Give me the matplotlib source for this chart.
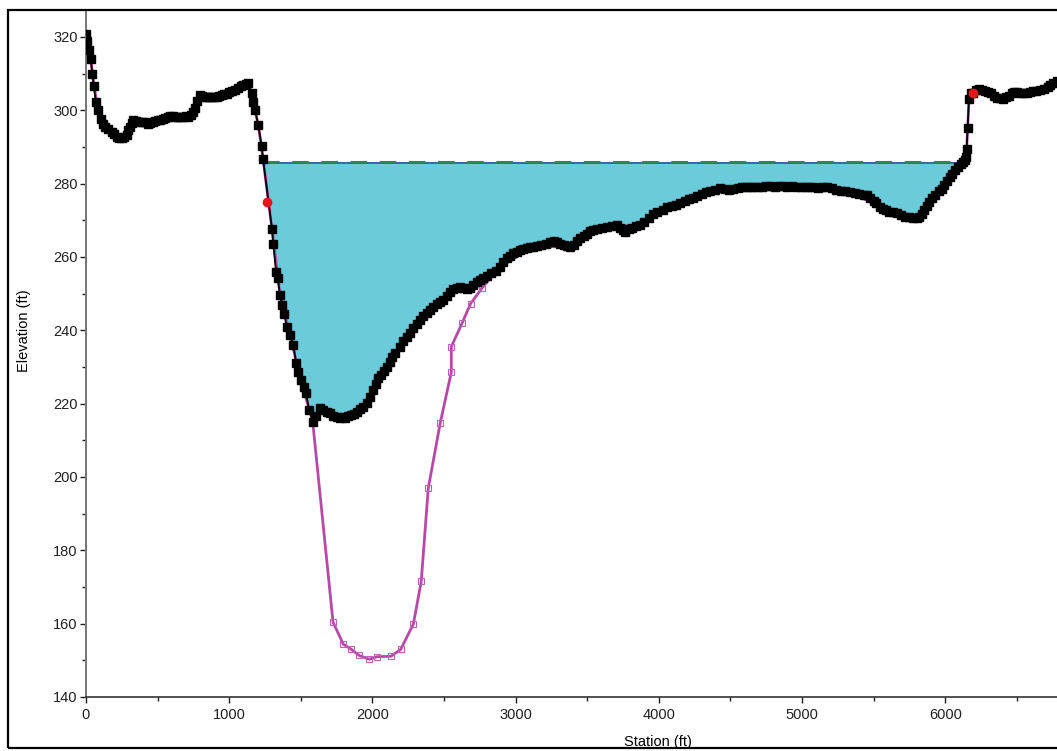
import numpy as np
import matplotlib
matplotlib.use("Agg")
import matplotlib.pyplot as plt
from matplotlib.patches import Rectangle

plt.rcParams['font.family'] = ['Liberation Sans', 'DejaVu Sans']

# ---------------- data ----------------
ground_station = [
    0, 9, 20, 33, 45, 56, 68, 86, 103, 118, 133, 155, 179, 196, 214, 232, 249, 266, 284, 296,
    307, 318, 330, 350, 370, 389, 410, 430, 447, 465, 482, 500, 517, 535, 552, 570, 587, 605,
    622, 640, 656, 675, 695, 714, 730, 746, 761, 778, 796, 812, 828, 843, 860, 878, 896, 913,
    930, 947, 965, 982, 1000, 1020, 1040, 1060, 1080, 1099, 1116, 1133, 1157, 1168, 1180, 1203,
    1227, 1236, 1299, 1308, 1327, 1339, 1355, 1366, 1385, 1401, 1425, 1448, 1467, 1483, 1499,
    1522, 1536, 1559, 1583, 1606, 1634, 1657, 1680, 1704, 1727, 1750, 1774, 1797, 1809, 1830,
    1850, 1870, 1890, 1913, 1935, 1960, 1983, 2006, 2025, 2041, 2060, 2080, 2100, 2120, 2140,
    2160, 2193, 2215, 2240, 2263, 2285, 2310, 2332, 2355, 2380, 2402, 2425, 2450, 2472, 2495,
    2520, 2545, 2565, 2589, 2610, 2635, 2660, 2681, 2705, 2730, 2752, 2774, 2800, 2830, 2860,
    2890, 2915, 2938, 2960, 2985, 3010, 3031, 3055, 3080, 3100, 3124, 3150, 3180, 3210, 3240,
    3265, 3287, 3310, 3335, 3360, 3380, 3405, 3430, 3450, 3475, 3500, 3520, 3543, 3570, 3600,
    3636, 3670, 3706, 3730, 3750, 3764, 3790, 3815, 3840, 3869, 3900, 3930, 3960, 3990, 4030,
    4060, 4090, 4120, 4148, 4180, 4210, 4240, 4270, 4300, 4330, 4360, 4390, 4427, 4460, 4490,
    4520, 4550, 4580, 4610, 4640, 4658, 4690, 4720, 4750, 4780, 4810, 4840, 4870, 4895, 4930,
    4960, 4990, 5020, 5050, 5080, 5110, 5140, 5175, 5210, 5240, 5270, 5300, 5336, 5370, 5400,
    5430, 5454, 5475, 5500, 5520, 5545, 5568, 5590, 5610, 5635, 5661, 5690, 5720, 5750, 5775,
    5801, 5820, 5840, 5855, 5871, 5890, 5910, 5930, 5955, 5976, 5995, 6015, 6033, 6050, 6070,
    6091, 6110, 6125, 6138, 6143, 6150, 6157, 6166, 6180, 6196, 6215, 6236, 6260, 6280, 6299,
    6320, 6340, 6360, 6383, 6404, 6425, 6445, 6465, 6481, 6499, 6520, 6545, 6570, 6590, 6610,
    6635, 6662, 6690, 6715, 6735, 6755, 6780,
]
ground_elev = [
    320.8, 319.0, 316.5, 313.9, 310.0, 306.6, 302.4, 300.1, 297.6, 296.4, 295.5, 294.8, 294.2,
    293.5, 292.8, 292.4, 292.4, 292.6, 293.3, 294.5, 295.5, 296.6, 297.4, 297.0, 296.8, 296.9,
    296.7, 296.4, 296.5, 296.7, 297.0, 297.3, 297.4, 297.7, 298.0, 298.3, 298.5, 298.4, 298.3,
    298.3, 298.3, 298.3, 298.4, 298.3, 298.8, 299.6, 300.6, 302.5, 304.2, 303.9, 303.7, 303.6,
    303.6, 303.7, 303.7, 303.7, 304.0, 304.2, 304.4, 304.5, 304.9, 305.2, 305.5, 306.0, 306.5,
    306.9, 307.2, 307.4, 304.6, 302.4, 300.1, 296.0, 290.3, 286.8, 267.6, 263.5, 256.0, 254.2,
    249.6, 247.0, 244.4, 241.0, 238.7, 236.0, 231.2, 228.7, 226.5, 224.6, 222.8, 218.3, 215.1,
    216.5, 218.7, 218.3, 217.6, 217.4, 216.5, 216.3, 216.0, 216.3, 216.0, 216.6, 217.0, 217.3,
    217.8, 218.5, 219.2, 220.1, 221.8, 223.7, 225.3, 226.9, 227.8, 229.0, 230.1, 231.3, 232.6,
    233.8, 235.5, 237.0, 238.1, 239.2, 240.5, 241.8, 242.8, 243.8, 244.7, 245.5, 246.4, 247.3,
    247.8, 248.3, 249.4, 250.5, 251.2, 251.5, 251.7, 251.6, 251.4, 251.5, 252.4, 253.2, 253.7,
    254.2, 254.9, 255.6, 256.3, 257.2, 258.5, 259.7, 260.3, 261.0, 261.4, 261.9, 262.1, 262.4,
    262.6, 262.8, 263.0, 263.3, 263.6, 264.0, 264.3, 264.2, 263.5, 263.2, 262.9, 262.8, 263.4,
    264.3, 265.1, 265.8, 266.4, 267.0, 267.4, 267.6, 267.9, 268.3, 268.5, 268.7, 268.0, 267.3,
    266.9, 267.5, 268.0, 268.4, 268.7, 269.5, 270.7, 271.6, 272.4, 272.8, 273.5, 274.0, 274.3,
    274.6, 275.2, 275.7, 276.2, 276.7, 277.1, 277.6, 278.0, 278.4, 278.7, 278.6, 278.4, 278.6,
    278.8, 279.0, 279.1, 279.2, 279.2, 279.1, 279.2, 279.3, 279.3, 279.2, 279.3, 279.3, 279.2,
    279.3, 279.2, 279.0, 279.1, 279.2, 279.1, 278.9, 279.0, 279.0, 278.7, 278.4, 278.1, 277.9,
    277.8, 277.5, 277.2, 276.8, 276.9, 276.0, 275.2, 274.6, 273.7, 273.2, 272.8, 272.4, 272.2,
    271.9, 271.4, 271.0, 270.8, 270.7, 270.6, 270.9, 271.8, 272.9, 273.9, 275.0, 276.1, 276.9,
    277.9, 278.5, 279.6, 280.8, 281.9, 282.7, 283.6, 284.6, 285.3, 285.9, 286.5, 287.3, 289.5,
    295.3, 303.0, 304.6, 304.8, 305.5, 305.7, 305.5, 305.2, 305.1, 304.6, 304.0, 303.4, 303.3,
    303.1, 303.5, 304.0, 304.6, 305.0, 305.1, 304.8, 304.6, 304.7, 305.1, 305.3, 305.3, 305.5,
    305.9, 306.4, 306.9, 307.4, 308.0,
]

orig_station = [
    0, 33, 56, 86, 133, 214, 284, 330, 447, 587, 714, 796, 913, 1040, 1133, 1168, 1203, 1236,
    1299, 1355, 1425, 1499, 1583, 1725, 1797, 1853, 1904, 1978, 2034, 2130, 2198, 2286, 2341,
    2390, 2474, 2551, 2551, 2628, 2686, 2767, 2890, 3124, 3380, 3636, 3869, 4148, 4427, 4750,
    5050, 5336, 5568, 5801, 5976, 6091, 6150, 6166, 6236, 6404, 6610, 6780,
]
orig_elev = [
    320.8, 313.9, 306.6, 300.1, 295.5, 292.8, 293.3, 297.4, 296.5, 298.5, 298.3, 304.2, 303.7,
    305.5, 307.4, 302.4, 296.0, 286.8, 267.6, 249.6, 238.7, 226.5, 215.1, 160.4, 154.4, 153.0,
    151.4, 150.3, 151.0, 151.1, 153.0, 159.9, 171.5, 196.9, 214.8, 228.6, 235.5, 242.1, 247.3,
    251.6, 257.2, 262.8, 262.8, 268.3, 268.7, 274.6, 278.7, 279.3, 279.2, 277.8, 273.2, 270.6,
    278.5, 284.6, 289.5, 303.0, 305.7, 303.1, 305.3, 308.0,
]

bank_station = [1266, 6196]
bank_elev = [275.1, 304.8]

ws_elev = 285.6
eg_elev = 285.9
ws_left, ws_right = 1236, 6125

x_ticks = [0, 1000, 2000, 3000, 4000, 5000, 6000]
y_ticks = [140, 160, 180, 200, 220, 240, 260, 280, 300, 320]

# ---------------- figure ----------------
W, H = 1057, 751
fig = plt.figure(figsize=(W / 100, H / 100), dpi=100)
ax = fig.add_axes([86 / W, (H - 697) / H, (W - 86) / W, (697 - 11) / H])

st = np.array(ground_station, dtype=float)
el = np.array(ground_elev, dtype=float)

# water fill
mask = (st >= ws_left - 1) & (st <= ws_right + 1)
ax.fill_between(st, el, ws_elev, where=mask & (el <= ws_elev + 0.6), interpolate=True,
                color='#6BCBDB', linewidth=0, zorder=1)

# original channel (magenta)
ax.plot(orig_station, orig_elev, color='#B848A8', lw=2.0, marker='s', markersize=4.5,
        markerfacecolor='none', markeredgecolor='#C060B4', markeredgewidth=0.8, zorder=2)

# water surface lines
ax.plot([ws_left, ws_right], [ws_elev, ws_elev], color='#2F55A4', lw=1.3, zorder=3)
ax.plot([ws_left, ws_right], [eg_elev, eg_elev], color='#2A8A52', lw=1.5,
        dashes=(8, 6), zorder=3)

# ground (black)
ax.plot(st, el, color='black', lw=1.3, marker='s', markersize=5.4,
        markerfacecolor='black', markeredgecolor='black', zorder=4)

# bank stations
ax.plot(bank_station, bank_elev, linestyle='none', marker='o', markersize=6,
        color='#E8141C', zorder=5)

ax.set_xlim(0, (W - 86) / 143.2 * 1000)
ax.set_ylim(140, 320 + 26 / 3.667)

ax.set_xticks(x_ticks)
ax.set_yticks(y_ticks)
ax.set_xticks(np.arange(500, 7000, 1000), minor=True)
ax.set_yticks(np.arange(150, 330, 20), minor=True)
ax.tick_params(which='major', direction='out', length=4, width=1, labelsize=10.5, pad=2,
               colors='#202020')
ax.tick_params(which='minor', direction='out', length=3.2, width=1, colors='#202020')
ax.tick_params(axis='x', which='major', pad=4)

for s in ['top', 'right']:
    ax.spines[s].set_visible(False)
ax.spines['left'].set_color('#777777')
ax.spines['left'].set_linewidth(1.4)
ax.spines['bottom'].set_color('#222222')
ax.spines['bottom'].set_linewidth(1.1)

ax.set_xlabel('Station (ft)', fontsize=10.5)
ax.set_ylabel('Elevation (ft)', fontsize=10.5)
ax.xaxis.set_label_coords((658 - 86) / (W - 86), -0.055)
ax.yaxis.set_label_coords(-0.057, 0.5335)

# outer frame
fig.add_artist(Rectangle((8 / W, 3 / H), 1.2, (748 - 10) / H, transform=fig.transFigure,
                         fill=False, edgecolor='black', linewidth=1.6, clip_on=False))

fig.savefig('out.png', dpi=100)
